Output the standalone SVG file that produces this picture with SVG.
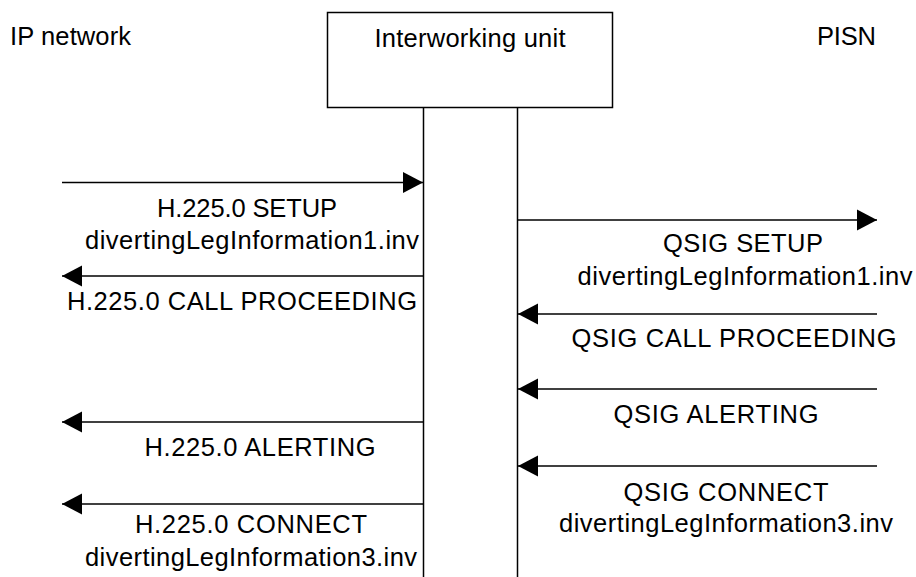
<svg xmlns="http://www.w3.org/2000/svg" width="916" height="577" viewBox="0 0 916 577">
<style>
  text { font-family: "Liberation Sans", Arial, sans-serif; font-size: 25.5px; fill: #000; }
  .c { text-anchor: middle; }
  .line { stroke: #000; stroke-width: 1.5; fill: none; }
  .msg { stroke: #000; stroke-width: 1.5; fill: none; marker-end: url(#ah); }
</style>
<defs>
  <marker id="ah" markerUnits="userSpaceOnUse" markerWidth="21" markerHeight="22" refX="20" refY="10.5" orient="auto" overflow="visible">
    <path d="M0,0 L20,10.5 L0,21 Z" fill="#000"/>
  </marker>
</defs>
<rect width="916" height="577" fill="#fff"/>
<g id="ip-network">
  <text x="10" y="45" textLength="121" lengthAdjust="spacing">IP network</text>
</g>
<g id="pisn">
  <text x="817" y="45" textLength="59" lengthAdjust="spacing">PISN</text>
</g>
<g id="interworking-unit">
  <rect x="327.5" y="12.5" width="285" height="95" class="line"/>
  <text x="470" y="46.5" class="c" textLength="191" lengthAdjust="spacing">Interworking unit</text>
</g>
<g id="lifelines">
  <line x1="423.5" y1="107" x2="423.5" y2="577" class="line"/>
  <line x1="517.5" y1="107" x2="517.5" y2="577" class="line"/>
</g>
<g id="connectors">
  <line x1="62" y1="182.5" x2="423" y2="182.5" class="msg"/>
  <line x1="423" y1="276" x2="62" y2="276" class="msg"/>
  <line x1="518" y1="220" x2="877" y2="220" class="msg"/>
  <line x1="877" y1="314" x2="518" y2="314" class="msg"/>
  <line x1="877" y1="389" x2="518" y2="389" class="msg"/>
  <line x1="423" y1="422" x2="62" y2="422" class="msg"/>
  <line x1="877" y1="466" x2="518" y2="466" class="msg"/>
  <line x1="423" y1="504" x2="62" y2="504" class="msg"/>
</g>
<g id="labels">
  <text x="247" y="217" class="c" textLength="180" lengthAdjust="spacing">H.225.0 SETUP</text>
  <text x="252" y="249" class="c" textLength="334" lengthAdjust="spacing">divertingLegInformation1.inv</text>
  <text x="242" y="310" class="c" textLength="350" lengthAdjust="spacing">H.225.0 CALL PROCEEDING</text>
  <text x="743" y="252" class="c" textLength="160" lengthAdjust="spacing">QSIG SETUP</text>
  <text x="745" y="285" class="c" textLength="335" lengthAdjust="spacing">divertingLegInformation1.inv</text>
  <text x="734" y="347" class="c" textLength="325" lengthAdjust="spacing">QSIG CALL PROCEEDING</text>
  <text x="716" y="423" class="c" textLength="205" lengthAdjust="spacing">QSIG ALERTING</text>
  <text x="260" y="456" class="c" textLength="231" lengthAdjust="spacing">H.225.0 ALERTING</text>
  <text x="726" y="501" class="c" textLength="205" lengthAdjust="spacing">QSIG CONNECT</text>
  <text x="726" y="532" class="c" textLength="334" lengthAdjust="spacing">divertingLegInformation3.inv</text>
  <text x="251" y="533" class="c" textLength="232" lengthAdjust="spacing">H.225.0 CONNECT</text>
  <text x="251" y="566" class="c" textLength="332" lengthAdjust="spacing">divertingLegInformation3.inv</text>
</g>
</svg>
